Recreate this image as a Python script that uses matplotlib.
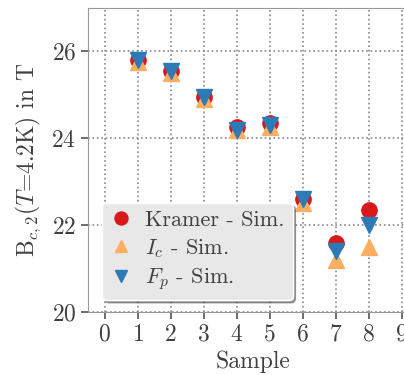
import matplotlib.pyplot as plt

plt.rcParams["font.family"] = "serif"
plt.rcParams["font.serif"] = ["cmr10", "DejaVu Serif"]
plt.rcParams["mathtext.fontset"] = "cm"
plt.rcParams["axes.formatter.use_mathtext"] = True

samples = [1, 2, 3, 4, 5, 6, 7, 8]
kramer = [25.8, 25.55, 24.95, 24.25, 24.35, 22.6, 21.6, 22.35]
ic_sim = [25.75, 25.5, 24.9, 24.2, 24.25, 22.5, 21.2, 21.5]
fp_sim = [25.8, 25.55, 24.95, 24.2, 24.3, 22.6, 21.4, 22.0]

text_color = "#404040"
spine_color = "#999999"

fig = plt.figure(figsize=(4.04, 3.75), dpi=100)
ax = fig.add_axes([88 / 404, 1 - 312 / 375, 330 / 404, 304 / 375])

ax.plot(samples, kramer, "o", color="#d7191c", markersize=11, label="Kramer - Sim.", zorder=3)
ax.plot(samples, ic_sim, "^", color="#fdae61", markersize=11, label=r"$I_c$ - Sim.", zorder=3)
ax.plot(samples, fp_sim, "v", color="#2c7bb6", markersize=11, label=r"$F_p$ - Sim.", zorder=3)

ax.set_xlim(-0.5, 9.5)
ax.set_ylim(20, 27)
ax.set_xticks(range(10))
ax.set_yticks([20, 22, 24, 26])
ax.grid(True, linestyle=":", color="#888888", linewidth=1.2)
ax.set_axisbelow(True)

for side in ["left", "bottom", "top", "right"]:
    ax.spines[side].set_color(spine_color)
ax.tick_params(colors="#555555", labelcolor=text_color, labelsize=17, length=5,
               width=1.2, direction="out")

ax.set_xlabel("Sample", fontsize=17, color=text_color, labelpad=3)
ax.set_ylabel(r"B$_{c,2}$($T$=4.2K) in T", fontsize=17, color=text_color, labelpad=6)

leg = ax.legend(loc="lower left", fontsize=16, shadow=True, fancybox=True,
                facecolor="#e8e8e8", edgecolor="white", framealpha=1,
                markerscale=0.85, handlelength=1.0, handletextpad=0.6,
                borderpad=0.35, labelspacing=0.3, borderaxespad=0.0,
                bbox_to_anchor=(14 / 330, 12 / 304))
for t in leg.get_texts():
    t.set_color(text_color)

fig.savefig("out.png", dpi=100)
